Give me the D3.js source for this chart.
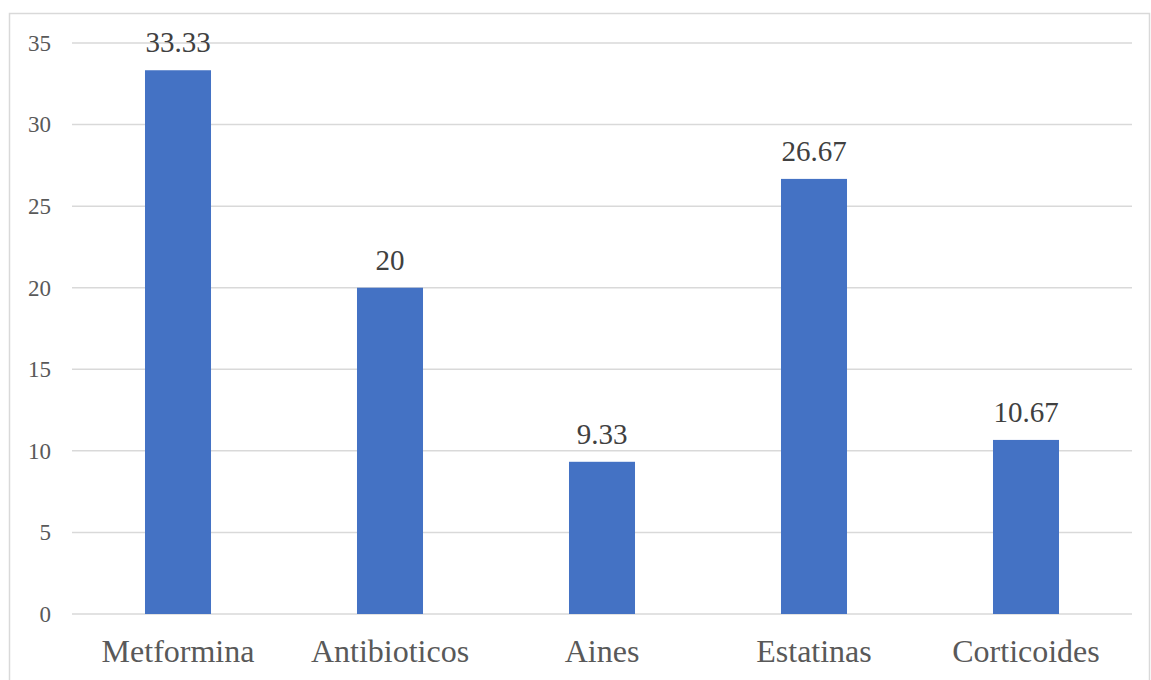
<!DOCTYPE html>
<html>
<head>
<meta charset="utf-8">
<script src="https://cdn.jsdelivr.net/npm/d3@7"></script>
<style>
  html, body { margin: 0; padding: 0; background: #fff; }
  svg { display: block; }
</style>
</head>
<body>
<div id="chart"></div>
<script>
// Drug categories and their percentages
const categories = ["Metformina", "Antibioticos", "Aines", "Estatinas", "Corticoides"];
const values = [33.33, 20, 9.33, 26.67, 10.67];
const valueLabels = ["33.33", "20", "9.33", "26.67", "10.67"];
const yTicks = [0, 5, 10, 15, 20, 25, 30, 35];

const W = 1151, H = 680;
const margin = { left: 72, right: 19, top: 43, bottom: 66 };
const serif = "'Liberation Serif', 'Times New Roman', serif";

const svg = d3.select("#chart").append("svg")
  .attr("width", W).attr("height", H);

// Outer chart frame
svg.append("rect")
  .attr("x", 9.5).attr("y", 13.5)
  .attr("width", 1140).attr("height", 680)
  .attr("fill", "#fff").attr("stroke", "#d9d9d9").attr("stroke-width", 1.5);

const x = d3.scaleBand()
  .domain(categories)
  .range([margin.left, W - margin.right])
  .paddingInner(0.6886).paddingOuter(0.3443);

const y = d3.scaleLinear()
  .domain([0, 35])
  .range([H - margin.bottom, margin.top]);

// Horizontal gridlines
svg.append("g")
  .selectAll("line")
  .data(yTicks)
  .join("line")
  .attr("x1", margin.left).attr("x2", W - margin.right)
  .attr("y1", d => y(d)).attr("y2", d => y(d))
  .attr("stroke", "#d9d9d9").attr("stroke-width", 1.5);

// Y axis labels
const yAxis = d3.axisLeft(y).tickValues(yTicks).tickSize(0).tickPadding(21);
const gy = svg.append("g")
  .attr("transform", `translate(${margin.left},0)`)
  .call(yAxis);
gy.select(".domain").remove();
gy.selectAll("text")
  .attr("font-family", serif)
  .attr("font-size", 23).attr("fill", "#595959");

// Bars
svg.append("g")
  .selectAll("rect")
  .data(categories)
  .join("rect")
  .attr("x", d => x(d))
  .attr("width", x.bandwidth())
  .attr("y", (d, i) => y(values[i]))
  .attr("height", (d, i) => y(0) - y(values[i]))
  .attr("fill", "#4472c4");

// Value labels above bars
svg.append("g")
  .selectAll("text")
  .data(categories)
  .join("text")
  .attr("x", d => x(d) + x.bandwidth() / 2)
  .attr("y", (d, i) => y(values[i]) - 18)
  .attr("text-anchor", "middle")
  .attr("font-family", serif)
  .attr("font-size", 29).attr("fill", "#404040")
  .text((d, i) => valueLabels[i]);

// Category labels
const xAxis = d3.axisBottom(x).tickSize(0);
const gx = svg.append("g")
  .attr("transform", `translate(0,${y(0)})`)
  .call(xAxis);
gx.select(".domain").remove();
gx.selectAll("text")
  .attr("y", 48).attr("dy", 0)
  .attr("font-family", serif)
  .attr("font-size", 32).attr("fill", "#595959");
</script>
</body>
</html>
